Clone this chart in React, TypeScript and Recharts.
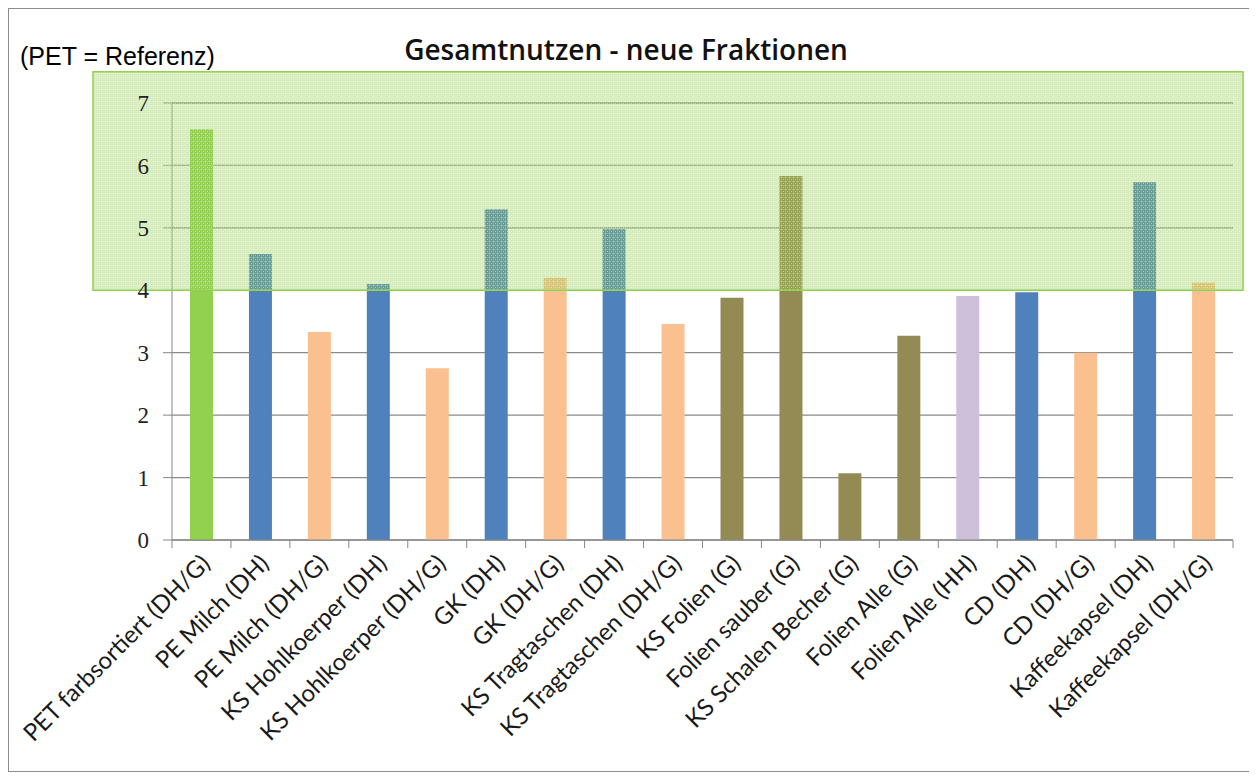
import React from "react";
import {
  BarChart,
  Bar,
  XAxis,
  YAxis,
  CartesianGrid,
  ReferenceArea,
  Cell,
} from "recharts";

const categories = [
  "PET farbsortiert (DH/G)",
  "PE Milch (DH)",
  "PE Milch (DH/G)",
  "KS Hohlkoerper (DH)",
  "KS Hohlkoerper (DH/G)",
  "GK (DH)",
  "GK (DH/G)",
  "KS Tragtaschen (DH)",
  "KS Tragtaschen (DH/G)",
  "KS Folien (G)",
  "Folien sauber (G)",
  "KS Schalen Becher (G)",
  "Folien Alle (G)",
  "Folien Alle (HH)",
  "CD (DH)",
  "CD (DH/G)",
  "Kaffeekapsel (DH)",
  "Kaffeekapsel (DH/G)",
];

const values = [
  6.58, 4.58, 3.33, 4.1, 2.75, 5.3, 4.2, 4.98, 3.46, 3.88, 5.83, 1.07, 3.27,
  3.91, 3.97, 3.0, 5.73, 4.12,
];

// collection type of each bar, decides the colour
const kinds = [
  "ref", "DH", "DH/G", "DH", "DH/G", "DH", "DH/G", "DH", "DH/G",
  "G", "G", "G", "G", "HH", "DH", "DH/G", "DH", "DH/G",
];

const yTicks = [0, 1, 2, 3, 4, 5, 6, 7];
const bandRange = [4, 7.5];

const kindColors: Record<string, string> = {
  ref: "#92D050",
  DH: "#4F81BD",
  "DH/G": "#FAC090",
  G: "#948A54",
  HH: "#CCC0DA",
};

const data = categories.map((name, i) => ({
  name,
  value: values[i],
  kind: kinds[i],
}));

const W = 1240;
const H = 762;
const margin = { top: 94, right: 16, bottom: 11, left: 113 };
const yAxisW = 50;
const plotLeft = margin.left + yAxisW;
const plotRight = W - margin.right;
const step = (plotRight - plotLeft) / categories.length;

function XTick(props: any) {
  const { x, y, payload, index } = props;
  const left = x - step / 2;
  const tx = x + 10;
  const ty = y + 17;
  return (
    <g>
      <line x1={left} y1={y - 8} x2={left} y2={y} stroke="#868686" />
      {index === categories.length - 1 && (
        <line x1={x + step / 2} y1={y - 8} x2={x + step / 2} y2={y} stroke="#868686" />
      )}
      <text
        x={tx}
        y={ty}
        textAnchor="end"
        transform={`rotate(-45, ${tx}, ${ty})`}
        fontFamily="Lato, sans-serif"
        fontSize={24}
        fill="#1a1a1a"
      >
        {payload.value}
      </text>
    </g>
  );
}

function BandShape(props: any) {
  const { x, y, width, height } = props;
  return (
    <rect
      x={x - 79}
      y={y}
      width={width + 89}
      height={height}
      fill="url(#chk)"
      stroke="#92D050"
      strokeWidth={1.5}
    />
  );
}

export default function App() {
  return (
    <div
      style={{
        position: "relative",
        width: W,
        height: H,
        border: "1px solid #8c8c8c",
        background: "#fff",
      }}
    >
      <div
        style={{
          position: "absolute",
          left: 11,
          top: 33,
          fontFamily: "'Liberation Sans', Arial, sans-serif",
          fontSize: 25,
          color: "#000",
        }}
      >
        (PET = Referenz)
      </div>
      <div
        style={{
          position: "absolute",
          left: 0,
          width: W - 6,
          top: 21,
          textAlign: "center",
          fontFamily: "'Open Sans', sans-serif",
          fontWeight: 600,
          fontSize: 28,
          color: "#111",
        }}
      >
        Gesamtnutzen - neue Fraktionen
      </div>
      <div style={{ position: "absolute", left: 0, top: 0 }}>
        <BarChart width={W} height={H} data={data} margin={margin}>
          <defs>
            <pattern id="chk" width="4" height="4" patternUnits="userSpaceOnUse">
              <rect width="4" height="4" fill="rgba(140,200,70,0.36)" />
              <rect x="0" y="0" width="4" height="1" fill="rgba(255,255,255,0.22)" />
              <rect x="0" y="0" width="1" height="4" fill="rgba(255,255,255,0.22)" />
              <rect x="2" y="2" width="1" height="1" fill="rgba(255,255,255,0.45)" />
            </pattern>
          </defs>
          <CartesianGrid vertical={false} stroke="#8a8a8a" strokeWidth={1.3} />
          <XAxis
            dataKey="name"
            interval={0}
            height={220}
            tickLine={false}
            axisLine={{ stroke: "#868686" }}
            tick={<XTick />}
          />
          <YAxis
            width={yAxisW}
            domain={[0, 7]}
            ticks={yTicks}
            interval={0}
            axisLine={{ stroke: "#868686" }}
            tickLine={{ stroke: "#868686" }}
            tickSize={9}
            tickMargin={14}
            tick={{
              fontFamily: "'Liberation Serif', serif",
              fontSize: 23,
              fill: "#222",
            }}
          />
          <Bar dataKey="value" barSize={23} isAnimationActive={false}>
            {data.map((d) => (
              <Cell key={d.name} fill={kindColors[d.kind]} />
            ))}
          </Bar>
          <ReferenceArea
            y1={bandRange[0]}
            y2={bandRange[1]}
            ifOverflow="visible"
            shape={<BandShape />}
            zIndex={1000}
          />
        </BarChart>
      </div>
    </div>
  );
}
